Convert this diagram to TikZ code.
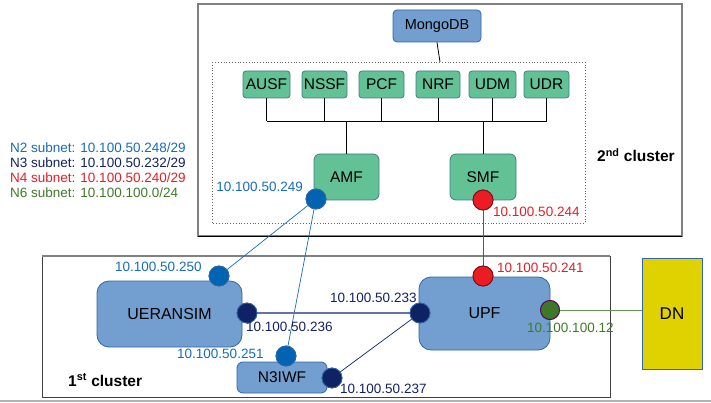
\documentclass[tikz,border=0pt]{standalone}
\usepackage{fontspec}
\setmainfont{Liberation Sans}
\definecolor{boxblue}{RGB}{114,159,207}
\definecolor{boxblueb}{RGB}{52,101,164}
\definecolor{nfgreen}{RGB}{99,194,149}
\definecolor{nfborder}{RGB}{70,120,140}
\definecolor{ipblue}{RGB}{22,108,190}
\definecolor{dotblue}{RGB}{0,100,178}
\definecolor{ipnavy}{RGB}{20,34,100}
\definecolor{dotnavy}{RGB}{14,34,100}
\definecolor{ipred}{RGB}{228,30,38}
\definecolor{dotred}{RGB}{236,28,36}
\definecolor{ipgreen}{RGB}{63,122,42}
\definecolor{dotgreen}{RGB}{62,118,42}
\definecolor{dnyellow}{RGB}{224,210,0}
\definecolor{slate}{RGB}{100,115,165}
\begin{document}
\begin{tikzpicture}[x=1pt,y=-1pt,
  nf/.style={draw=nfborder,fill=nfgreen,rounded corners=3pt,inner sep=0pt,line width=0.8pt,font=\fontsize{15.5}{17}\selectfont},
  bluebox/.style={draw=boxblueb,fill=boxblue,inner sep=0pt,line width=0.8pt},
  dot/.style={circle,inner sep=0pt,minimum size=20pt,line width=0.8pt},
  iplabel/.style={inner sep=0pt,font=\fontsize{13.5}{15}\selectfont},
  legend/.style={inner sep=0pt,anchor=west,font=\fontsize{13.5}{15}\selectfont},
  wire/.style={line width=0.8pt}]
\useasboundingbox (0,0) rectangle (711,403);
% clusters
\draw[gray,line width=1.8pt] (198,4) rectangle (682,236);
\draw[black,line width=0.8pt] (198,236) -- (682,236);
\draw[black!75,line width=0.9pt] (42,256) rectangle (610,397);
\draw[gray,line width=2pt] (42,256) -- (610,256);
\draw[gray!60,line width=1.5pt] (0,401) -- (711,401);
\draw[black!60,dotted,line width=0.8pt] (212,62) rectangle (585,223);
\node[inner sep=0pt,anchor=west,font=\fontsize{15.5}{17}\selectfont\bfseries] (c2) at (597,155) {2\textsuperscript{nd} cluster};
\node[inner sep=0pt,anchor=west,font=\fontsize{15.5}{17}\selectfont\bfseries] (c1) at (68,380) {1\textsuperscript{st} cluster};
% legend
\node[legend,text=ipblue] (l2) at (10,148) {N2 subnet: 10.100.50.248/29};
\node[legend,text=ipnavy] (l3) at (10,163) {N3 subnet: 10.100.50.232/29};
\node[legend,text=ipred] (l4) at (10,178) {N4 subnet: 10.100.50.240/29};
\node[legend,text=ipgreen] (l6) at (10,193) {N6 subnet: 10.100.100.0/24};
% MongoDB
\node[bluebox,rounded corners=4pt,minimum width=88pt,minimum height=32pt,font=\fontsize{14.5}{16}\selectfont] (mongo) at (437,26) {MongoDB};
\coordinate (dtop) at (440,62);
\draw[wire] (mongo.south) -- (dtop);
% NFs
\node[nf,minimum width=47pt,minimum height=27pt] (ausf) at (266.5,84.5) {AUSF};
\node[nf,minimum width=45pt,minimum height=27pt] (nssf) at (324.5,84.5) {NSSF};
\node[nf,minimum width=45pt,minimum height=27pt] (pcf) at (381.5,84.5) {PCF};
\node[nf,minimum width=44pt,minimum height=27pt] (nrf) at (438,84.5) {NRF};
\node[nf,minimum width=47pt,minimum height=27pt] (udm) at (492.5,84.5) {UDM};
\node[nf,minimum width=45pt,minimum height=27pt] (udr) at (546.5,84.5) {UDR};
\coordinate (busy) at (0,121);
\draw[wire] (ausf.south |- busy) -- (udr.south |- busy);
\foreach \n in {ausf,nssf,pcf,nrf,udm,udr} \draw[wire] (\n.south) -- (\n.south |- busy);
% AMF SMF
\node[nf,rounded corners=6pt,minimum width=65pt,minimum height=46pt] (amf) at (346.5,177) {AMF};
\node[nf,rounded corners=6pt,minimum width=66pt,minimum height=46pt] (smf) at (483,177) {SMF};
\draw[wire] (amf.north) -- (amf.north |- busy);
\draw[wire] (smf.north) -- (smf.north |- busy);
% 1st cluster nodes
\node[bluebox,rounded corners=12pt,minimum width=145pt,minimum height=66pt,font=\fontsize{16}{18}\selectfont] (ueransim) at (169.5,314) {UERANSIM};
\node[bluebox,rounded corners=6pt,minimum width=90pt,minimum height=31pt,font=\fontsize{15.5}{17}\selectfont] (n3iwf) at (282,377.5) {N3IWF};
\node[bluebox,rounded corners=12pt,minimum width=131pt,minimum height=73pt,font=\fontsize{16}{18}\selectfont] (upf) at (484.5,313.5) {UPF};
\node[draw=boxblueb,fill=dnyellow,line width=0.8pt,minimum width=60pt,minimum height=111pt,inner sep=0pt,font=\fontsize{17}{19}\selectfont] (dn) at (672,313.5) {DN};
% dots
\node[dot,draw=boxblueb,fill=dotblue] (amfd) at (316,199) {};
\node[dot,draw=ipred!50!black,fill=dotred] (smfd) at (483,200) {};
\node[dot,draw=boxblueb,fill=dotblue] (uebd) at (219,276) {};
\node[dot,draw=boxblueb,fill=dotnavy] (uend) at (247,313) {};
\node[dot,draw=boxblueb,fill=dotblue] (n3bd) at (286,356) {};
\node[dot,draw=boxblueb,fill=dotnavy] (n3nd) at (332,378) {};
\node[dot,draw=ipred!50!black,fill=dotred] (upfrd) at (483,276) {};
\node[dot,draw=boxblueb,fill=dotnavy] (upfnd) at (420,313) {};
\node[dot,minimum size=19pt,draw=violet!70!black,fill=dotgreen] (upfgd) at (550,310) {};
% connectors
\draw[ipblue,line width=0.7pt] (amfd) -- (uebd);
\draw[ipblue,line width=0.7pt] (amfd) -- (n3bd);
\draw[ipred,line width=0.7pt] (smfd) -- (upfrd);
\draw[slate,line width=1.6pt] (uend) -- (upfnd);
\draw[dotnavy,line width=0.7pt] (n3nd) -- (upfnd);
\draw[ipgreen!80!white,line width=0.8pt] (upfgd) -- (dn.west |- upfgd);
% redraw dots over lines
\node[dot,draw=boxblueb,fill=dotblue] at (amfd) {};
\node[dot,draw=ipred!50!black,fill=dotred] at (smfd) {};
\node[dot,draw=boxblueb,fill=dotblue] at (uebd) {};
\node[dot,draw=boxblueb,fill=dotnavy] at (uend) {};
\node[dot,draw=boxblueb,fill=dotblue] at (n3bd) {};
\node[dot,draw=boxblueb,fill=dotnavy] at (n3nd) {};
\node[dot,draw=ipred!50!black,fill=dotred] at (upfrd) {};
\node[dot,draw=boxblueb,fill=dotnavy] at (upfnd) {};
\node[dot,minimum size=19pt,draw=violet!70!black,fill=dotgreen] at (upfgd) {};
% ip labels
\node[iplabel,anchor=east,text=ipblue] (ip249) at (303,187) {10.100.50.249};
\node[iplabel,anchor=west,text=ipred] (ip244) at (493,212) {10.100.50.244};
\node[iplabel,anchor=west,text=ipblue] (ip250) at (115,267) {10.100.50.250};
\node[iplabel,anchor=west,text=ipnavy] (ip236) at (246,327) {10.100.50.236};
\node[iplabel,anchor=west,text=ipblue] (ip251) at (177,354) {10.100.50.251};
\node[iplabel,anchor=west,text=ipnavy] (ip237) at (340,389) {10.100.50.237};
\node[iplabel,anchor=west,text=ipred] (ip241) at (497,268) {10.100.50.241};
\node[iplabel,anchor=west,text=ipnavy] (ip233) at (330,298) {10.100.50.233};
\node[iplabel,anchor=west,text=ipgreen] (ip12) at (527,328) {10.100.100.12};
\end{tikzpicture}
\end{document}
